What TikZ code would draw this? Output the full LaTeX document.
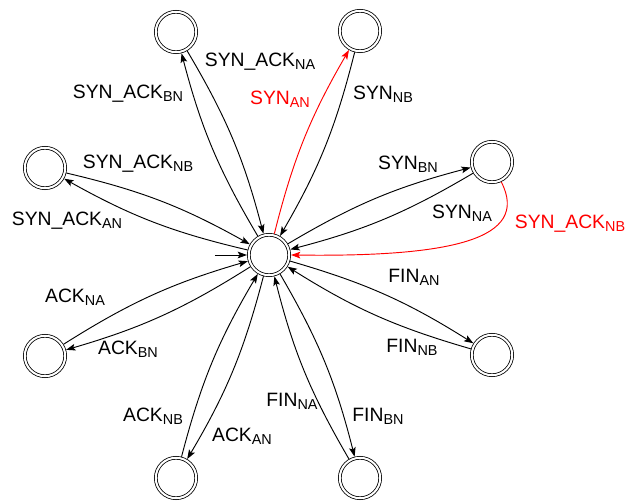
\documentclass[tikz,border=0pt]{standalone}
\usepackage{fontspec}
\setmainfont{Liberation Sans}
\usepackage{tikz}
\usetikzlibrary{arrows.meta}

\newcommand{\lsub}[1]{\raisebox{-2.2pt}{\fontsize{10.8pt}{12pt}\selectfont #1}}

\tikzset{
  state/.style={circle,draw,double,double distance=1.5pt,line width=0.6pt,
    minimum size=30.3pt,inner sep=0pt,outer sep=1.35pt},
  trans/.style={-{Stealth[length=7pt,width=5pt,inset=1.5pt]},line width=0.7pt},
  lbl/.style={inner sep=0pt,anchor=center,font=\fontsize{14.5pt}{17pt}\selectfont}
}

\begin{document}
\begin{tikzpicture}[x=0.75pt,y=0.75pt]
      \useasboundingbox (-269,-247) rectangle (357,255);

      % states
      \node[state] (c) at (0,0) {};
      \node[state] (tl) at (-93,223) {};
      \node[state] (tr) at (91,224) {};
      \node[state] (ru) at (223,93) {};
      \node[state] (rl) at (223,-100) {};
      \node[state] (br) at (91,-223) {};
      \node[state] (bl) at (-93,-223) {};
      \node[state] (ll) at (-224,-101) {};
      \node[state] (lu) at (-224,87) {};

      \coordinate (start) at (-54,0);
      \draw[trans] (start) -- (c);

      % transitions
      \draw[trans] (c) to[bend left=8] (tl);
      \draw[trans] (tl) to[bend left=8] (c);
      \draw[trans,red] (c) to[bend left=8] (tr);
      \draw[trans] (tr) to[bend left=8] (c);
      \draw[trans] (c) to[bend left=8] (ru);
      \draw[trans] (ru) to[bend left=8] (c);
      \draw[trans,red] (ru.-65) .. controls (262,15) and (180,-2) .. (c.east);
      \draw[trans] (c) to[bend left=8] (rl);
      \draw[trans] (rl) to[bend left=8] (c);
      \draw[trans] (c) to[bend left=8] (br);
      \draw[trans] (br) to[bend left=8] (c);
      \draw[trans] (c) to[bend left=8] (bl);
      \draw[trans] (bl) to[bend left=8] (c);
      \draw[trans] (c) to[bend left=8] (ll);
      \draw[trans] (ll) to[bend left=8] (c);
      \draw[trans] (c) to[bend left=8] (lu);
      \draw[trans] (lu) to[bend left=8] (c);

      % labels
      \node[lbl] (lSynAckBN) at (-141,161) {SYN\_ACK\lsub{BN}};
      \node[lbl] (lSynAckNA) at (-9,193) {SYN\_ACK\lsub{NA}};
      \node[lbl,red] (lSynAN) at (11,156) {SYN\lsub{AN}};
      \node[lbl] (lSynNB) at (114,161) {SYN\lsub{NB}};
      \node[lbl] (lSynAckNBl) at (-131,91) {SYN\_ACK\lsub{NB}};
      \node[lbl] (lSynAckAN) at (-202,34) {SYN\_ACK\lsub{AN}};
      \node[lbl] (lSynBN) at (139,91) {SYN\lsub{BN}};
      \node[lbl] (lSynNA) at (193,42) {SYN\lsub{NA}};
      \node[lbl,red] (lSynAckNBr) at (301,31) {SYN\_ACK\lsub{NB}};
      \node[lbl] (lFinAN) at (145,-22) {FIN\lsub{AN}};
      \node[lbl] (lFinNB) at (143,-92) {FIN\lsub{NB}};
      \node[lbl] (lAckNA) at (-194,-42) {ACK\lsub{NA}};
      \node[lbl] (lAckBN) at (-141,-94) {ACK\lsub{BN}};
      \node[lbl] (lFinNA) at (23,-146) {FIN\lsub{NA}};
      \node[lbl] (lFinBN) at (109,-161) {FIN\lsub{BN}};
      \node[lbl] (lAckNB) at (-116,-161) {ACK\lsub{NB}};
      \node[lbl] (lAckAN) at (-27,-181) {ACK\lsub{AN}};
\end{tikzpicture}
\end{document}
